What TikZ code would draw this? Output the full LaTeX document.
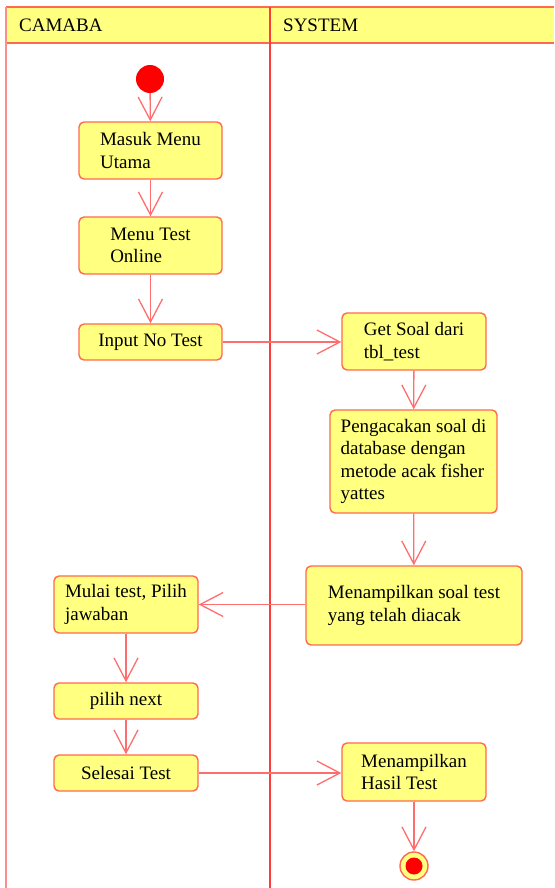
\documentclass[tikz,border=0pt]{standalone}
\usepackage{fontspec}
\setmainfont{Liberation Serif}
\usetikzlibrary{arrows.meta}
\definecolor{actfill}{RGB}{255,255,128}
\definecolor{actborder}{RGB}{255,105,80}
\definecolor{flowcol}{RGB}{255,110,110}
\definecolor{framecol}{RGB}{255,140,140}
\definecolor{dividercol}{RGB}{255,60,60}
\definecolor{dotred}{RGB}{255,0,0}
\tikzset{
  act/.style={draw=actborder, fill=actfill, rounded corners=5pt, line width=1.4pt,
    font=\fontsize{19}{22.5}\selectfont, align=left, inner sep=0pt},
  flow/.style={draw=flowcol, line width=1.3pt,
    -{Straight Barb[length=23pt,width=24pt]}},
  lanetitle/.style={anchor=base west, inner sep=0pt, font=\fontsize{19}{22}\selectfont}
}
\begin{document}
\begin{tikzpicture}[x=1pt,y=-1pt]
\useasboundingbox (0,0) rectangle (554,888);

% swimlane header and frame
\fill[actfill] (6,7) rectangle (554,43);
\draw[actborder, line width=1.4pt] (6,7) -- (554,7);
\draw[actborder, line width=1.4pt] (6,43) -- (554,43);
\draw[framecol, line width=1.4pt] (6,7) -- (6,888);
\draw[dividercol, line width=1.6pt] (270,7) -- (270,888);
\node[lanetitle] (laneA) at (19,32) {CAMABA};
\node[lanetitle] (laneB) at (283,32) {SYSTEM};

% initial and final states
\node[circle, fill=dotred, minimum size=28pt, inner sep=0pt] (start) at (150,79) {};
\node[circle, draw=actborder, fill=actfill, line width=1.4pt, minimum size=28pt, inner sep=0pt] (end) at (414,866) {};
\node[circle, fill=dotred, minimum size=17pt, inner sep=0pt] (enddot) at (end.center) {};

% CAMABA activities
\node[act, minimum width=143pt, minimum height=57pt] (masuk) at (150.5,150.5) {Masuk Menu\\Utama};
\node[act, minimum width=143pt, minimum height=57pt] (menutest) at (150.5,245.5) {Menu Test\\Online};
\node[act, minimum width=143pt, minimum height=36pt] (input) at (150.5,342) {Input No Test};
\node[act, minimum width=144pt, minimum height=57pt] (mulai) at (126,604.5) {Mulai test, Pilih\\jawaban};
\node[act, minimum width=144pt, minimum height=36pt] (next) at (126,701) {pilih next};
\node[act, minimum width=144pt, minimum height=36pt] (selesai) at (126,773) {Selesai Test};

% SYSTEM activities
\node[act, minimum width=144pt, minimum height=57pt] (getsoal) at (414,341.5) {Get Soal dari\\tbl\_test};
\node[act, minimum width=167pt, minimum height=103pt] (acak) at (413.5,461.5) {Pengacakan soal di\\database dengan\\metode acak fisher\\yattes};
\node[act, minimum width=216pt, minimum height=79pt] (tampil) at (414,605.5) {Menampilkan soal test\\yang telah diacak};
\node[act, minimum width=144pt, minimum height=58pt] (hasil) at (414,772) {Menampilkan\\Hasil Test};

% control flow
\draw[flow] (start) -- (masuk);
\draw[flow] (masuk) -- (menutest);
\draw[flow] (menutest) -- (input);
\draw[flow] (input.east) -- (getsoal.west |- input.east);
\draw[flow] (getsoal) -- (acak);
\draw[flow] (acak) -- (tampil);
\draw[flow] (tampil.west |- mulai.east) -- (mulai.east);
\draw[flow] (mulai) -- (next);
\draw[flow] (next) -- (selesai);
\draw[flow] (selesai.east) -- (hasil.west |- selesai.east);
\draw[flow] (hasil) -- (end);
\end{tikzpicture}
\end{document}
